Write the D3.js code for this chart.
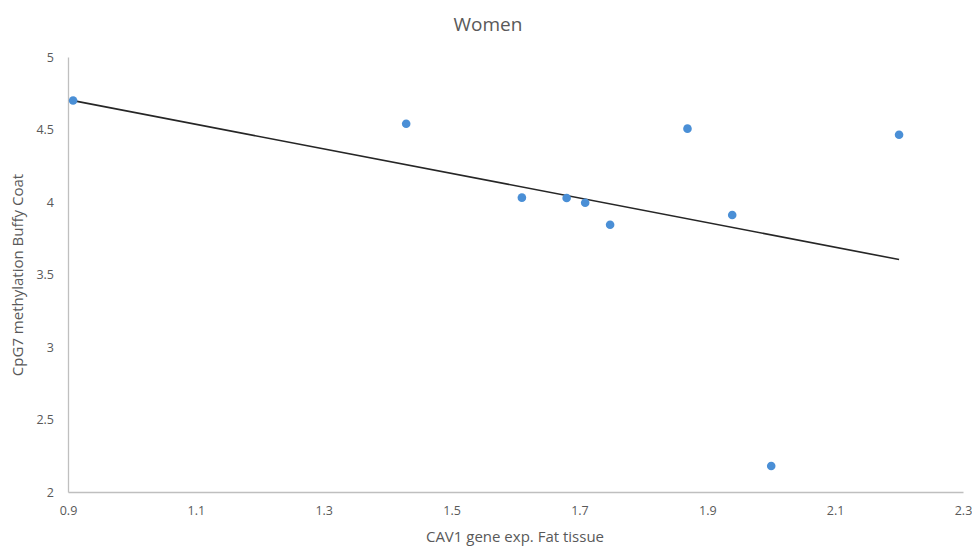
<!DOCTYPE html>
<html><head><meta charset="utf-8">
<script src="https://cdn.jsdelivr.net/npm/d3@7"></script>
<style>body{margin:0;background:#fff}svg{display:block}text{font-family:"Open Sans","Liberation Sans",sans-serif}</style>
</head><body><svg id="c" width="972" height="546"></svg>
<script>
const title = "Women";
const xLabel = "CAV1 gene exp. Fat tissue";
const yLabel = "CpG7 methylation Buffy Coat";
const xValues = [0.908, 1.429, 1.610, 1.680, 1.709, 1.748, 1.869, 1.939, 2.200, 2.000];
const yValues = [4.70, 4.54, 4.03, 4.028, 3.995, 3.843, 4.506, 3.910, 4.464, 2.179];
const xTicks = [0.9, 1.1, 1.3, 1.5, 1.7, 1.9, 2.1, 2.3];
const yTicks = [2, 2.5, 3, 3.5, 4, 4.5, 5];

const svg = d3.select("#c");
const x = d3.scaleLinear().domain([0.9, 2.3]).range([68, 963]);
const y = d3.scaleLinear().domain([2, 5]).range([492, 57]);
const grey = "#595959";

svg.append("text").attr("x", 488).attr("y", 31).attr("text-anchor", "middle")
  .attr("font-size", 19).attr("fill", grey).text(title);

const xa = svg.append("g").attr("transform", "translate(0,492)")
  .call(d3.axisBottom(x).tickValues(xTicks).tickSize(0).tickPadding(14).tickFormat(d3.format(".1f")));
const ya = svg.append("g").attr("transform", "translate(68,0)")
  .call(d3.axisLeft(y).tickValues(yTicks).tickSize(0).tickPadding(14).tickFormat(d => String(d)));
[xa, ya].forEach(g => {
  g.select(".domain").attr("stroke", "#bfbfbf").attr("stroke-width", 1.3);
  g.selectAll("text").attr("fill", grey).attr("font-size", 12.5);
});

svg.append("text").attr("x", 515).attr("y", 542).attr("text-anchor", "middle")
  .attr("font-size", 15).attr("fill", grey).text(xLabel);
svg.append("text").attr("transform", "translate(23,275) rotate(-90)").attr("text-anchor", "middle")
  .attr("font-size", 15).attr("fill", grey).text(yLabel);

// linear trendline (least squares over the data)
const mx = d3.mean(xValues), my = d3.mean(yValues);
const slope = d3.sum(xValues, (v, i) => (v - mx) * (yValues[i] - my)) / d3.sum(xValues, v => (v - mx) ** 2);
const [x0, x1] = d3.extent(xValues);
const trend = [[x0, my + slope * (x0 - mx)], [x1, my + slope * (x1 - mx)]];
svg.append("path").attr("d", d3.line().x(d => x(d[0])).y(d => y(d[1]))(trend))
  .attr("stroke", "#262626").attr("stroke-width", 1.6).attr("fill", "none");

svg.selectAll("circle.pt").data(xValues).join("circle").attr("class", "pt")
  .attr("cx", d => x(d)).attr("cy", (d, i) => y(yValues[i])).attr("r", 4.3)
  .attr("fill", "#4a8fd6");
</script></body></html>
